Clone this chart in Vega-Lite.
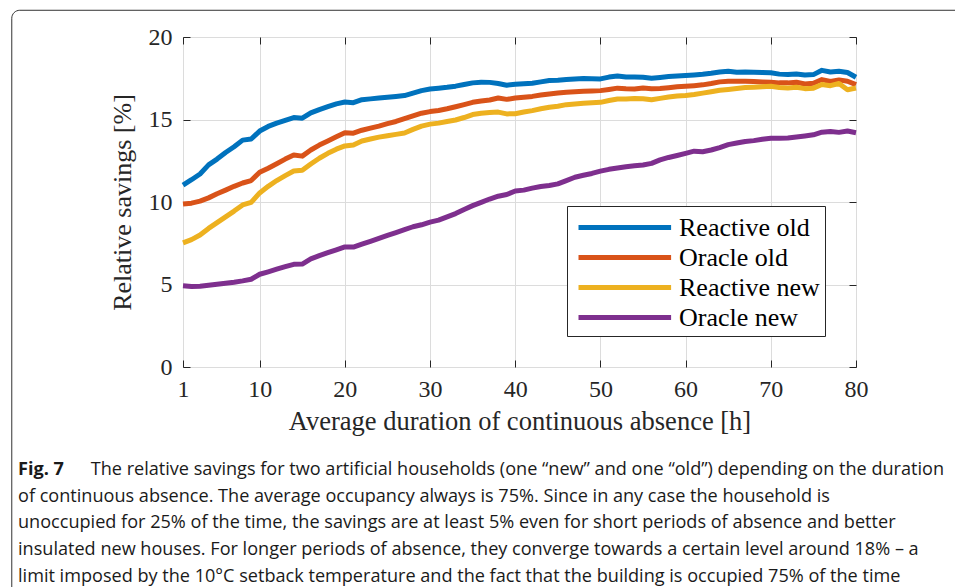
{
  "$schema": "https://vega.github.io/schema/vega-lite/v6.json",
  "width": 673,
  "height": 330,
  "autosize": {"type": "none"},
  "padding": {"left": 183, "top": 37, "right": 99, "bottom": 220},
  "background": "white",
  "datasets": {
    "savings": [
      {"h": 1, "Reactive old": 11.02, "Oracle old": 9.88, "Reactive new": 7.52, "Oracle new": 4.92},
      {"h": 2, "Reactive old": 11.35, "Oracle old": 9.93, "Reactive new": 7.72, "Oracle new": 4.88},
      {"h": 3, "Reactive old": 11.7, "Oracle old": 10.05, "Reactive new": 8.0, "Oracle new": 4.9},
      {"h": 4, "Reactive old": 12.25, "Oracle old": 10.25, "Reactive new": 8.4, "Oracle new": 4.96},
      {"h": 5, "Reactive old": 12.6, "Oracle old": 10.5, "Reactive new": 8.75, "Oracle new": 5.02},
      {"h": 6, "Reactive old": 13.0, "Oracle old": 10.72, "Reactive new": 9.1, "Oracle new": 5.08},
      {"h": 7, "Reactive old": 13.35, "Oracle old": 10.95, "Reactive new": 9.45, "Oracle new": 5.14},
      {"h": 8, "Reactive old": 13.75, "Oracle old": 11.15, "Reactive new": 9.82, "Oracle new": 5.22},
      {"h": 9, "Reactive old": 13.82, "Oracle old": 11.3, "Reactive new": 9.98, "Oracle new": 5.32},
      {"h": 10, "Reactive old": 14.3, "Oracle old": 11.8, "Reactive new": 10.55, "Oracle new": 5.62},
      {"h": 11, "Reactive old": 14.58, "Oracle old": 12.05, "Reactive new": 10.95, "Oracle new": 5.77},
      {"h": 12, "Reactive old": 14.78, "Oracle old": 12.32, "Reactive new": 11.3, "Oracle new": 5.93},
      {"h": 13, "Reactive old": 14.95, "Oracle old": 12.6, "Reactive new": 11.6, "Oracle new": 6.08},
      {"h": 14, "Reactive old": 15.12, "Oracle old": 12.85, "Reactive new": 11.88, "Oracle new": 6.22},
      {"h": 15, "Reactive old": 15.08, "Oracle old": 12.78, "Reactive new": 11.92, "Oracle new": 6.24},
      {"h": 16, "Reactive old": 15.4, "Oracle old": 13.15, "Reactive new": 12.3, "Oracle new": 6.55},
      {"h": 17, "Reactive old": 15.6, "Oracle old": 13.45, "Reactive new": 12.65, "Oracle new": 6.75},
      {"h": 18, "Reactive old": 15.78, "Oracle old": 13.7, "Reactive new": 12.95, "Oracle new": 6.93},
      {"h": 19, "Reactive old": 15.95, "Oracle old": 13.95, "Reactive new": 13.2, "Oracle new": 7.1},
      {"h": 20, "Reactive old": 16.06, "Oracle old": 14.2, "Reactive new": 13.4, "Oracle new": 7.28},
      {"h": 21, "Reactive old": 16.02, "Oracle old": 14.17, "Reactive new": 13.46, "Oracle new": 7.27},
      {"h": 22, "Reactive old": 16.2, "Oracle old": 14.35, "Reactive new": 13.7, "Oracle new": 7.45},
      {"h": 23, "Reactive old": 16.25, "Oracle old": 14.48, "Reactive new": 13.82, "Oracle new": 7.62},
      {"h": 24, "Reactive old": 16.3, "Oracle old": 14.6, "Reactive new": 13.93, "Oracle new": 7.8},
      {"h": 25, "Reactive old": 16.35, "Oracle old": 14.75, "Reactive new": 14.02, "Oracle new": 7.98},
      {"h": 26, "Reactive old": 16.4, "Oracle old": 14.88, "Reactive new": 14.1, "Oracle new": 8.15},
      {"h": 27, "Reactive old": 16.45, "Oracle old": 15.05, "Reactive new": 14.18, "Oracle new": 8.32},
      {"h": 28, "Reactive old": 16.6, "Oracle old": 15.22, "Reactive new": 14.4, "Oracle new": 8.5},
      {"h": 29, "Reactive old": 16.75, "Oracle old": 15.38, "Reactive new": 14.6, "Oracle new": 8.62},
      {"h": 30, "Reactive old": 16.85, "Oracle old": 15.48, "Reactive new": 14.72, "Oracle new": 8.78},
      {"h": 31, "Reactive old": 16.9, "Oracle old": 15.55, "Reactive new": 14.78, "Oracle new": 8.9},
      {"h": 32, "Reactive old": 16.95, "Oracle old": 15.65, "Reactive new": 14.88, "Oracle new": 9.1},
      {"h": 33, "Reactive old": 17.02, "Oracle old": 15.77, "Reactive new": 14.97, "Oracle new": 9.3},
      {"h": 34, "Reactive old": 17.12, "Oracle old": 15.9, "Reactive new": 15.12, "Oracle new": 9.55},
      {"h": 35, "Reactive old": 17.22, "Oracle old": 16.04, "Reactive new": 15.3, "Oracle new": 9.78},
      {"h": 36, "Reactive old": 17.26, "Oracle old": 16.12, "Reactive new": 15.38, "Oracle new": 9.98},
      {"h": 37, "Reactive old": 17.25, "Oracle old": 16.18, "Reactive new": 15.42, "Oracle new": 10.18},
      {"h": 38, "Reactive old": 17.18, "Oracle old": 16.3, "Reactive new": 15.45, "Oracle new": 10.35},
      {"h": 39, "Reactive old": 17.08, "Oracle old": 16.22, "Reactive new": 15.34, "Oracle new": 10.45},
      {"h": 40, "Reactive old": 17.13, "Oracle old": 16.3, "Reactive new": 15.35, "Oracle new": 10.67},
      {"h": 41, "Reactive old": 17.17, "Oracle old": 16.35, "Reactive new": 15.45, "Oracle new": 10.72},
      {"h": 42, "Reactive old": 17.2, "Oracle old": 16.4, "Reactive new": 15.54, "Oracle new": 10.84},
      {"h": 43, "Reactive old": 17.28, "Oracle old": 16.48, "Reactive new": 15.65, "Oracle new": 10.94},
      {"h": 44, "Reactive old": 17.36, "Oracle old": 16.55, "Reactive new": 15.74, "Oracle new": 11.0},
      {"h": 45, "Reactive old": 17.38, "Oracle old": 16.6, "Reactive new": 15.8, "Oracle new": 11.1},
      {"h": 46, "Reactive old": 17.42, "Oracle old": 16.65, "Reactive new": 15.9, "Oracle new": 11.3},
      {"h": 47, "Reactive old": 17.46, "Oracle old": 16.68, "Reactive new": 15.94, "Oracle new": 11.5},
      {"h": 48, "Reactive old": 17.48, "Oracle old": 16.71, "Reactive new": 15.98, "Oracle new": 11.62},
      {"h": 49, "Reactive old": 17.47, "Oracle old": 16.73, "Reactive new": 16.02, "Oracle new": 11.73},
      {"h": 50, "Reactive old": 17.46, "Oracle old": 16.75, "Reactive new": 16.04, "Oracle new": 11.87},
      {"h": 51, "Reactive old": 17.57, "Oracle old": 16.82, "Reactive new": 16.15, "Oracle new": 11.98},
      {"h": 52, "Reactive old": 17.64, "Oracle old": 16.9, "Reactive new": 16.24, "Oracle new": 12.06},
      {"h": 53, "Reactive old": 17.57, "Oracle old": 16.86, "Reactive new": 16.24, "Oracle new": 12.14},
      {"h": 54, "Reactive old": 17.58, "Oracle old": 16.85, "Reactive new": 16.27, "Oracle new": 12.2},
      {"h": 55, "Reactive old": 17.56, "Oracle old": 16.91, "Reactive new": 16.26, "Oracle new": 12.24},
      {"h": 56, "Reactive old": 17.5, "Oracle old": 16.86, "Reactive new": 16.2, "Oracle new": 12.34},
      {"h": 57, "Reactive old": 17.55, "Oracle old": 16.88, "Reactive new": 16.28, "Oracle new": 12.55},
      {"h": 58, "Reactive old": 17.6, "Oracle old": 16.93, "Reactive new": 16.36, "Oracle new": 12.7},
      {"h": 59, "Reactive old": 17.63, "Oracle old": 16.98, "Reactive new": 16.42, "Oracle new": 12.82},
      {"h": 60, "Reactive old": 17.66, "Oracle old": 17.01, "Reactive new": 16.46, "Oracle new": 12.95},
      {"h": 61, "Reactive old": 17.7, "Oracle old": 17.05, "Reactive new": 16.52, "Oracle new": 13.08},
      {"h": 62, "Reactive old": 17.74, "Oracle old": 17.1, "Reactive new": 16.6, "Oracle new": 13.05},
      {"h": 63, "Reactive old": 17.8, "Oracle old": 17.18, "Reactive new": 16.68, "Oracle new": 13.15},
      {"h": 64, "Reactive old": 17.88, "Oracle old": 17.28, "Reactive new": 16.77, "Oracle new": 13.3},
      {"h": 65, "Reactive old": 17.93, "Oracle old": 17.32, "Reactive new": 16.82, "Oracle new": 13.48},
      {"h": 66, "Reactive old": 17.87, "Oracle old": 17.32, "Reactive new": 16.88, "Oracle new": 13.58},
      {"h": 67, "Reactive old": 17.88, "Oracle old": 17.32, "Reactive new": 16.94, "Oracle new": 13.67},
      {"h": 68, "Reactive old": 17.87, "Oracle old": 17.3, "Reactive new": 16.96, "Oracle new": 13.72},
      {"h": 69, "Reactive old": 17.85, "Oracle old": 17.28, "Reactive new": 16.99, "Oracle new": 13.8},
      {"h": 70, "Reactive old": 17.83, "Oracle old": 17.26, "Reactive new": 17.01, "Oracle new": 13.86},
      {"h": 71, "Reactive old": 17.75, "Oracle old": 17.22, "Reactive new": 16.94, "Oracle new": 13.86},
      {"h": 72, "Reactive old": 17.73, "Oracle old": 17.22, "Reactive new": 16.91, "Oracle new": 13.88},
      {"h": 73, "Reactive old": 17.76, "Oracle old": 17.26, "Reactive new": 16.95, "Oracle new": 13.94},
      {"h": 74, "Reactive old": 17.7, "Oracle old": 17.15, "Reactive new": 16.87, "Oracle new": 14.0},
      {"h": 75, "Reactive old": 17.72, "Oracle old": 17.2, "Reactive new": 16.9, "Oracle new": 14.07},
      {"h": 76, "Reactive old": 17.98, "Oracle old": 17.42, "Reactive new": 17.12, "Oracle new": 14.23},
      {"h": 77, "Reactive old": 17.88, "Oracle old": 17.3, "Reactive new": 17.05, "Oracle new": 14.27},
      {"h": 78, "Reactive old": 17.92, "Oracle old": 17.4, "Reactive new": 17.18, "Oracle new": 14.22},
      {"h": 79, "Reactive old": 17.85, "Oracle old": 17.32, "Reactive new": 16.8, "Oracle new": 14.3},
      {"h": 80, "Reactive old": 17.56, "Oracle old": 17.11, "Reactive new": 16.91, "Oracle new": 14.2}
    ]
  },
  "title": {
    "text": "Fig. 7",
    "subtitle": [
      "\u2800\u2800\u2800\u2800\u2800\u00a0\u2009The relative savings for two artificial households (one \u201cnew\u201d and one \u201cold\u201d) depending on the duration",
      "of continuous absence. The average occupancy always is 75%. Since in any case the household is",
      "unoccupied for 25% of the time, the savings are at least 5% even for short periods of absence and better",
      "insulated new houses. For longer periods of absence, they converge towards a certain level around 18% \u2013 a",
      "limit imposed by the 10\u00b0C setback temperature and the fact that the building is occupied 75% of the time"
    ],
    "orient": "bottom",
    "anchor": "start",
    "frame": "group",
    "dx": -165,
    "offset": -154,
    "limit": 2000,
    "font": "Open Sans",
    "fontSize": 18.1,
    "fontWeight": "bold",
    "color": "#1a1a1a",
    "subtitleFont": "Open Sans",
    "subtitleFontSize": 18.1,
    "subtitleFontWeight": "normal",
    "subtitleColor": "#1a1a1a",
    "subtitleLineHeight": 26.7,
    "subtitlePadding": -18.1
  },
  "config": {
    "view": {"stroke": "#262626", "strokeWidth": 1},
    "axis": {
      "labelFont": "Liberation Serif",
      "titleFont": "Liberation Serif",
      "labelColor": "#262626",
      "titleColor": "#262626",
      "titleFontWeight": "normal",
      "tickColor": "#262626",
      "domain": false
    }
  },
  "layer": [
    {
      "data": {"values": [{}]},
      "mark": {"type": "rect", "fill": "transparent", "stroke": "#333333", "strokeWidth": 1, "cornerRadius": 8},
      "encoding": {
        "x": {
          "datum": -19.1,
          "type": "quantitative",
          "scale": {"domain": [1, 80], "nice": false, "zero": false},
          "axis": {"orient": "top", "title": null, "labels": false, "grid": false, "values": [1, 10, 20, 30, 40, 50, 60, 70, 80], "tickSize": -7}
        },
        "x2": {"datum": 95},
        "y": {
          "datum": 21.62,
          "type": "quantitative",
          "scale": {"domain": [0, 20], "nice": false, "zero": false},
          "axis": {"orient": "right", "title": null, "labels": false, "grid": false, "values": [0, 5, 10, 15, 20], "tickSize": -7}
        },
        "y2": {"datum": -15}
      }
    },
    {
      "data": {"name": "savings"},
      "transform": [
        {"fold": ["Reactive old", "Oracle old", "Reactive new", "Oracle new"], "as": ["series", "savings"]}
      ],
      "mark": {"type": "line", "strokeWidth": 5, "strokeJoin": "round", "strokeCap": "butt"},
      "encoding": {
        "x": {
          "field": "h",
          "type": "quantitative",
          "scale": {"domain": [1, 80], "nice": false, "zero": false},
          "axis": {
            "orient": "bottom",
            "title": "Average duration of continuous absence [h]",
            "values": [1, 10, 20, 30, 40, 50, 60, 70, 80],
            "grid": true,
            "gridColor": "#dcdcdc",
            "gridWidth": 1,
            "tickSize": -7,
            "labelPadding": 17,
            "labelFontSize": 24,
            "titleFontSize": 26.5,
            "titlePadding": 7,
            "labelFlush": false
          }
        },
        "y": {
          "field": "savings",
          "type": "quantitative",
          "scale": {"domain": [0, 20], "nice": false, "zero": false},
          "axis": {
            "orient": "left",
            "title": "Relative savings [%]",
            "values": [0, 5, 10, 15, 20],
            "grid": true,
            "gridColor": "#dcdcdc",
            "gridWidth": 1,
            "tickSize": -7,
            "labelPadding": 18,
            "labelFontSize": 24,
            "titleFontSize": 26,
            "titlePadding": 13
          }
        },
        "color": {
          "field": "series",
          "type": "nominal",
          "sort": ["Reactive old", "Oracle old", "Reactive new", "Oracle new"],
          "scale": {
            "domain": ["Reactive old", "Oracle old", "Reactive new", "Oracle new"],
            "range": ["#0072BD", "#D95319", "#EDB120", "#7E2F8E"]
          },
          "legend": {
            "orient": "bottom-right",
            "offset": 31,
            "title": null,
            "symbolType": "M-0.714,0H5.9",
            "symbolSize": 784,
            "symbolStrokeWidth": 5,
            "labelFont": "Liberation Serif",
            "labelFontSize": 26,
            "labelColor": "#000000",
            "labelOffset": 74,
            "labelLimit": 400,
            "padding": 5,
            "rowPadding": 0,
            "strokeColor": "#262626",
            "fillColor": "white"
          }
        }
      }
    }
  ],
  "resolve": {"axis": {"x": "independent", "y": "independent"}}
}
